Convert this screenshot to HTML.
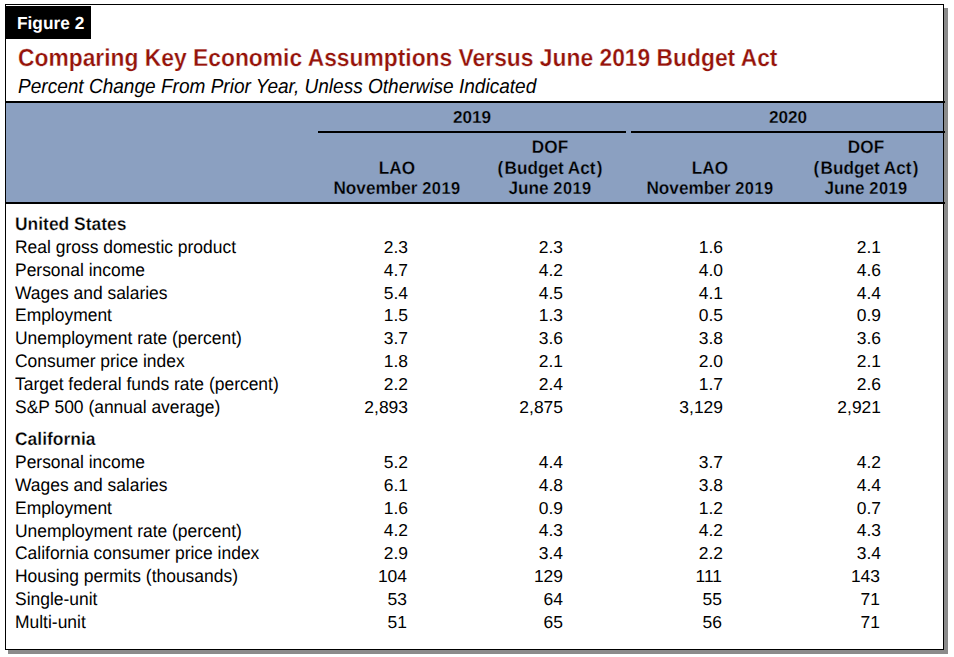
<!DOCTYPE html>
<html lang="en">
<head>
<meta charset="utf-8">
<title>Figure 2 - Comparing Key Economic Assumptions Versus June 2019 Budget Act</title>
<style>
html,body{margin:0;padding:0;background:#fff;}
body{width:954px;height:657px;position:relative;overflow:hidden;font-family:"Liberation Sans",Arial,Helvetica,sans-serif;color:#000;text-rendering:geometricPrecision;}
.abs{position:absolute;white-space:nowrap;transform-origin:0 50%;}
#shadow{position:absolute;left:8px;top:8px;width:940px;height:646px;background:#8b8b8b;}
#box{position:absolute;left:5px;top:4px;width:937px;height:644px;border:1px solid #000;background:#fff;}
#label{position:absolute;left:5px;top:6px;width:86px;height:32.5px;background:#000;}
#labeltxt{left:16.8px;top:13.45px;font-size:17.56px;line-height:20px;font-weight:bold;color:#fff;transform:scaleX(0.9852);}
#title{left:17.5px;top:45.3px;font-size:24.67px;line-height:28px;font-weight:bold;color:#95130a;-webkit-text-stroke:0.3px #fff;transform:scaleX(0.9259);}
#subtitle{left:18.2px;top:75.1px;font-size:20.39px;line-height:24px;font-style:italic;transform:scaleX(0.9346);}
#band{position:absolute;left:6px;top:102px;width:937px;height:101px;background:#8ba0c1;}
.rule{position:absolute;background:#000;}
.hd{position:absolute;white-space:nowrap;font-weight:bold;font-size:18.06px;line-height:20.3px;text-align:center;width:200px;transform-origin:50% 50%;-webkit-text-stroke:0.28px #8ba0c1;transform:scaleX(0.9524);}
.row{position:absolute;left:0;width:954px;height:22px;font-size:18.15px;line-height:22px;}
.row .l{position:absolute;left:15px;top:0;white-space:nowrap;transform-origin:0 50%;transform:scaleX(0.9615);}
.row .v{position:absolute;width:100px;text-align:right;white-space:nowrap;transform-origin:100% 50%;font-size:17.3px;top:-0.3px;transform:scaleX(1.0087);}
.row .c1{left:308px;}
.row .c2{left:463.2px;}
.row .c3{left:622.5px;}
.row .c4{left:780.6px;}
.hd.yr{font-size:17.37px;transform:scaleX(0.9901);}
.dg{font-size:0.955em;letter-spacing:0.45px;}
.row .n{margin-left:-1px;}
.sec{font-weight:bold;-webkit-text-stroke:0.28px #fff;}
.m{position:relative;top:0.7px;}
.pl{margin-right:1.2px;}
.pr{margin-left:1.2px;}
</style>
</head>
<body>
<div id="shadow"></div>
<div id="box"></div>
<div id="label"></div>
<div id="labeltxt" class="abs">Figure 2</div>
<div id="title" class="abs">Comparing Key Economic Assumptions Versus June 2019 Budget Act</div>
<div id="subtitle" class="abs">Percent Change From Prior Year, Unless Otherwise Indicated</div>

<div id="band"></div>
<div class="rule" style="left:5px;top:101px;width:940px;height:2px;"></div>
<div class="rule" style="left:5px;top:202px;width:940px;height:2px;"></div>
<div class="rule" style="left:318px;top:131px;width:308px;height:2px;"></div>
<div class="rule" style="left:631px;top:131px;width:314px;height:2px;"></div>

<div class="hd yr" style="left:372px;top:106.7px;">2019</div>
<div class="hd yr" style="left:687.5px;top:106.7px;">2020</div>
<div class="hd" style="left:296.7px;top:157.3px;"><span class="m">LAO</span><br>November <span class="dg">2019</span></div>
<div class="hd" style="left:450px;top:137px;">DOF<br><span class="m"><span class="pl">(</span>Budget Act<span class="pr">)</span></span><br>June <span class="dg">2019</span></div>
<div class="hd" style="left:609.5px;top:157.3px;"><span class="m">LAO</span><br>November <span class="dg">2019</span></div>
<div class="hd" style="left:766px;top:137px;">DOF<br><span class="m"><span class="pl">(</span>Budget Act<span class="pr">)</span></span><br>June <span class="dg">2019</span></div>

<div class="row sec" style="top:213.30px;"><span class="l">United States</span></div>
<div class="row" style="top:236.20px;"><span class="l">Real gross domestic product</span><span class="v c1">2.3</span><span class="v c2">2.3</span><span class="v c3">1.6</span><span class="v c4">2.1</span></div>
<div class="row" style="top:259.06px;"><span class="l">Personal income</span><span class="v c1">4.7</span><span class="v c2">4.2</span><span class="v c3">4.0</span><span class="v c4">4.6</span></div>
<div class="row" style="top:281.91px;"><span class="l">Wages and salaries</span><span class="v c1">5.4</span><span class="v c2">4.5</span><span class="v c3">4.1</span><span class="v c4">4.4</span></div>
<div class="row" style="top:304.77px;"><span class="l" style="top:-1.1px">Employment</span><span class="v c1">1.5</span><span class="v c2">1.3</span><span class="v c3">0.5</span><span class="v c4">0.9</span></div>
<div class="row" style="top:327.63px;"><span class="l" style="top:-1.1px">Unemployment rate (percent)</span><span class="v c1">3.7</span><span class="v c2">3.6</span><span class="v c3">3.8</span><span class="v c4">3.6</span></div>
<div class="row" style="top:350.49px;"><span class="l">Consumer price index</span><span class="v c1">1.8</span><span class="v c2">2.1</span><span class="v c3">2.0</span><span class="v c4">2.1</span></div>
<div class="row" style="top:373.34px;"><span class="l">Target federal funds rate (percent)</span><span class="v c1">2.2</span><span class="v c2">2.4</span><span class="v c3">1.7</span><span class="v c4">2.6</span></div>
<div class="row" style="top:396.20px;"><span class="l">S&amp;P 500 (annual average)</span><span class="v c1">2,893</span><span class="v c2">2,875</span><span class="v c3">3,129</span><span class="v c4">2,921</span></div>

<div class="row sec" style="top:428.20px;"><span class="l">California</span></div>
<div class="row" style="top:451.20px;"><span class="l">Personal income</span><span class="v c1">5.2</span><span class="v c2">4.4</span><span class="v c3">3.7</span><span class="v c4">4.2</span></div>
<div class="row" style="top:474.06px;"><span class="l">Wages and salaries</span><span class="v c1">6.1</span><span class="v c2">4.8</span><span class="v c3">3.8</span><span class="v c4">4.4</span></div>
<div class="row" style="top:496.91px;"><span class="l">Employment</span><span class="v c1">1.6</span><span class="v c2">0.9</span><span class="v c3">1.2</span><span class="v c4">0.7</span></div>
<div class="row" style="top:519.77px;"><span class="l">Unemployment rate (percent)</span><span class="v c1">4.2</span><span class="v c2">4.3</span><span class="v c3">4.2</span><span class="v c4">4.3</span></div>
<div class="row" style="top:542.63px;"><span class="l" style="top:-0.85px">California consumer price index</span><span class="v c1">2.9</span><span class="v c2">3.4</span><span class="v c3">2.2</span><span class="v c4">3.4</span></div>
<div class="row" style="top:565.48px;"><span class="l">Housing permits (thousands)</span><span class="v c1 n">104</span><span class="v c2">129</span><span class="v c3 n">111</span><span class="v c4 n">143</span></div>
<div class="row" style="top:588.34px;"><span class="l">Single-unit</span><span class="v c1 n">53</span><span class="v c2">64</span><span class="v c3 n">55</span><span class="v c4 n">71</span></div>
<div class="row" style="top:611.20px;"><span class="l">Multi-unit</span><span class="v c1 n">51</span><span class="v c2">65</span><span class="v c3 n">56</span><span class="v c4 n">71</span></div>
</body>
</html>
